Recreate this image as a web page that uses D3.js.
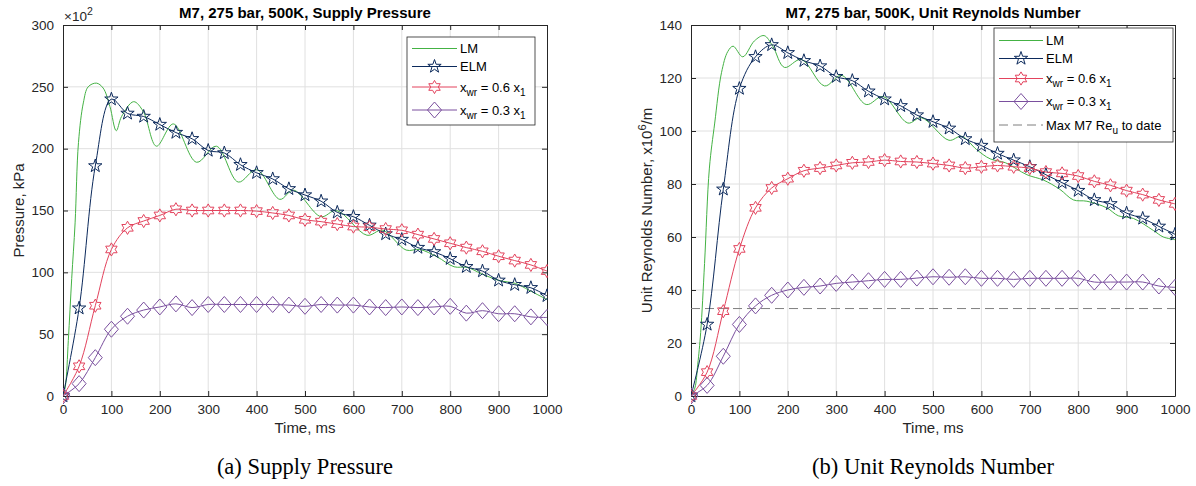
<!DOCTYPE html>
<html><head><meta charset="utf-8">
<script src="https://cdn.jsdelivr.net/npm/d3@7/dist/d3.min.js"></script>
<style>
body{margin:0;background:#fff}
text{font-family:"Liberation Sans",Arial,Helvetica,sans-serif}
</style>
</head><body>
<svg id="c" width="1196" height="486"></svg>
<script>
// ---------- DATA ----------
const timeTicks = [0,100,200,300,400,500,600,700,800,900,1000];
const markerTime = [0,33.3,66.7,100,133.3,166.7,200,233.3,266.7,300,333.3,366.7,400,433.3,466.7,500,
  533.3,566.7,600,633.3,666.7,700,733.3,766.7,800,833.3,866.7,900,933.3,966.7,1000];

// (a) Supply pressure, kPa
const pressureTicks = [0,50,100,150,200,250,300];
const pLM_t = [0,5,11,18,25,32,42,52,69,83,97,110,121,146,166,193,228,276,317,362,400,448,476,533,565,628,660,709,737,773,808,835,864,900,935,963,1000];
const pLM_v = [0,8,45,95,140,205,237,250,253,249,234,214.5,226,238,230,202,220,189,202,173,183,159,166.5,145,150,130,134,118,118.5,112.5,104.5,104,99,93.5,91,85.5,78];
const pELM = [0,71,186,240,228.5,226,219.5,213,208,198.5,196.5,187,180.5,175.5,167.5,162.5,157.5,148.5,145,138,131,126.5,120,116.5,111,104.5,101,93.5,90,87.5,81];
const pX06 = [0,24,73,118.5,136,141.5,146,151,150,150,150,150,149.5,148,146,142.5,141,139,137,136.5,135,134,130.5,127,123.5,120,117,113,109.5,106,101];
const pX03 = [0,10,31,54,64.5,69.5,72,74.5,71.5,74,74,74,74,74,73.5,72.5,74,73.5,73.5,72,71.5,72,71.5,72,72.5,67,69,66.5,66.5,64,63.5];

// (b) Unit Reynolds number, x10^6/m
const reTicks = [0,20,40,60,80,100,120,140];
const rLM_t = [0,8,14,20,28,38,49,63,76,87,107,131,151,169,193,228,276,311,362,397,448,476,533,559,590,618,650,694,728,762,790,818,859,883,914,955,976,1000];
const rLM_v = [0,3,12,24,50,86,103,122,130,132,128,134,136,132,124,127,117,121,110,113,103,105,96.5,98,93,89.5,88,83.5,81.5,78,74,73.5,71,68,67,62.5,60,59];
const rELM = [0,27,78,116,128,132.5,129.5,126.5,124.5,120.5,119,115,112,109.5,106,103.5,101,97,94.5,91.5,89,86.5,83.5,80.5,77.5,74,72.5,69,67,64,61];
const rX06 = [0,9,32,55.5,71,78.5,82,85,86,87,88,88.3,89,88.5,88.3,87.7,87,86,86.5,87,86.5,86,84.5,84,83,81,79.5,77.5,76,74,72.5];
const rX03 = [0,4,15,27,34,38,40,41,41.5,42.5,43,43.5,44,44,44.5,45,44.8,45,44.4,44.4,44,44.4,44.4,44.4,44.4,43,43,43,43,41.5,41];
const maxReToDate = 33;

const titles = ["M7, 275 bar, 500K, Supply Pressure", "M7, 275 bar, 500K, Unit Reynolds Number"];
const captions = ["(a) Supply Pressure", "(b) Unit Reynolds Number"];

// ---------- STYLE ----------
const C = {LM:"#44b244", ELM:"#0c2a5c", X06:"#e3435d", X03:"#7a4f9e", axis:"#262626", grid:"#e0e0e0", dash:"#7f7f7f"};
const svg = d3.select("#c");
const PLOT = {top:25, bottom:396, w:484};

function starPath(n, R, r){
  const p=[];
  for(let i=0;i<2*n;i++){
    const a=-Math.PI/2+i*Math.PI/n, rr=i%2?r:R;
    p.push([rr*Math.cos(a), rr*Math.sin(a)]);
  }
  return "M"+p.map(d=>d[0].toFixed(2)+","+d[1].toFixed(2)).join("L")+"Z";
}
const SYM = {
  pent: starPath(5,7,2.75),
  hex: starPath(6,6.6,3.8),
  dia: "M0,-8L7,0L0,8L-7,0Z"
};

function richLabel(sel, kind, val){
  if(kind==='x'){
    sel.append("tspan").text("x");
    sel.append("tspan").attr("font-size",10).attr("dy",4).text("wr");
    sel.append("tspan").attr("dy",-4).text(" = "+val+" x");
    sel.append("tspan").attr("font-size",10).attr("dy",4).text("1");
  } else if(kind==='max'){
    sel.append("tspan").text("Max M7 Re");
    sel.append("tspan").attr("font-size",10).attr("dy",4).text("u");
    sel.append("tspan").attr("dy",-4).text(" to date");
  } else sel.text(val);
}

function panel(cfg, idx){
  const L = cfg.left, R = L+PLOT.w;
  const x = d3.scaleLinear().domain([0,1000]).range([L,R]);
  const y = d3.scaleLinear().domain([0,cfg.yMax]).range([PLOT.bottom, PLOT.top]);
  const g = svg.append("g");
  const clipId = "clip"+idx;
  g.append("clipPath").attr("id",clipId).append("rect")
    .attr("x",L).attr("y",PLOT.top-10).attr("width",PLOT.w+1).attr("height",PLOT.bottom-PLOT.top+20);

  // grid
  g.append("g").selectAll("line").data(timeTicks.slice(1,-1)).join("line")
    .attr("x1",d=>x(d)).attr("x2",d=>x(d)).attr("y1",PLOT.top).attr("y2",PLOT.bottom)
    .attr("stroke",C.grid).attr("stroke-width",1);
  g.append("g").selectAll("line").data(cfg.yTicks.slice(1,-1)).join("line")
    .attr("y1",d=>y(d)).attr("y2",d=>y(d)).attr("x1",L).attr("x2",R)
    .attr("stroke",C.grid).attr("stroke-width",1);

  // axes
  const fmt = d=>String(d);
  const ax = [
    g.append("g").attr("transform",`translate(0,${PLOT.bottom})`).call(d3.axisBottom(x).tickValues(timeTicks).tickFormat(fmt).tickSize(-5).tickSizeOuter(0).tickPadding(8)),
    g.append("g").attr("transform",`translate(${L},0)`).call(d3.axisLeft(y).tickValues(cfg.yTicks).tickFormat(fmt).tickSize(-5).tickSizeOuter(0).tickPadding(9)),
    g.append("g").attr("transform",`translate(0,${PLOT.top})`).call(d3.axisTop(x).tickValues(timeTicks).tickSize(-5).tickSizeOuter(0).tickFormat("")),
    g.append("g").attr("transform",`translate(${R},0)`).call(d3.axisRight(y).tickValues(cfg.yTicks).tickSize(-5).tickSizeOuter(0).tickFormat(""))
  ];
  ax.forEach(a=>{
    a.select(".domain").attr("stroke",C.axis);
    a.selectAll(".tick line").attr("stroke",C.axis);
    a.selectAll(".tick text").attr("fill",C.axis).attr("font-size",13.5)
      .style("font-family",'"Liberation Sans",Arial,sans-serif');
  });

  const plot = g.append("g").attr("clip-path",`url(#${clipId})`);
  const line = d3.line().x(d=>x(d[0])).y(d=>y(d[1])).curve(d3.curveCatmullRom.alpha(0.5));

  if(cfg.maxRe!==undefined){
    plot.append("line").attr("x1",L).attr("x2",R).attr("y1",y(cfg.maxRe)).attr("y2",y(cfg.maxRe))
      .attr("stroke",C.dash).attr("stroke-width",1).attr("stroke-dasharray","9,5");
  }
  const series = [
    {t:cfg.lmT, v:cfg.lmV, color:C.LM, sym:null},
    {t:markerTime, v:cfg.elm, color:C.ELM, sym:"pent"},
    {t:markerTime, v:cfg.x06, color:C.X06, sym:"hex"},
    {t:markerTime, v:cfg.x03, color:C.X03, sym:"dia"}
  ];
  series.forEach(s=>{
    const pts = s.t.map((t,i)=>[t,s.v[i]]);
    plot.append("path").datum(pts).attr("d",line).attr("fill","none")
      .attr("stroke",s.color).attr("stroke-width",1);
    if(s.sym){
      plot.append("g").selectAll("path").data(pts).join("path")
        .attr("transform",d=>`translate(${x(d[0])},${y(d[1])})`)
        .attr("d",SYM[s.sym]).attr("fill","none").attr("stroke",s.color).attr("stroke-width",1);
    }
  });

  // title
  g.append("text").attr("x",(L+R)/2).attr("y",18).attr("text-anchor","middle")
    .attr("font-size",15).attr("font-weight","bold").attr("fill","#000").text(titles[idx]);
  // x label
  g.append("text").attr("x",(L+R)/2).attr("y",433).attr("text-anchor","middle")
    .attr("font-size",15).attr("fill",C.axis).text("Time, ms");
  // y label
  const yl = g.append("text").attr("transform",`translate(${cfg.ylabX},${(PLOT.top+PLOT.bottom)/2}) rotate(-90)`)
    .attr("text-anchor","middle").attr("font-size",15).attr("fill",C.axis);
  if(idx===0){ yl.text("Pressure, kPa"); }
  else {
    yl.append("tspan").text("Unit Reynolds Number, x10");
    yl.append("tspan").attr("font-size",11).attr("dy",-6).text("6");
    yl.append("tspan").attr("dy",6).text("/m");
  }
  if(cfg.exp){
    const e = g.append("text").attr("x",L+1).attr("y",21).attr("font-size",13.5).attr("fill",C.axis);
    e.append("tspan").text("\u00d710");
    e.append("tspan").attr("font-size",10.5).attr("dy",-6).text("2");
  }
  // caption
  g.append("text").attr("x",(L+R)/2).attr("y",474).attr("text-anchor","middle")
    .attr("font-size",22.5).attr("fill","#000")
    .style("font-family",'"Liberation Serif","Times New Roman",serif').text(captions[idx]);

  // legend
  const lg = cfg.legend;
  const leg = g.append("g");
  leg.append("rect").attr("x",lg.x).attr("y",lg.y).attr("width",lg.w).attr("height",lg.h)
    .attr("fill","#fff").attr("stroke",C.axis).attr("stroke-width",0.8);
  lg.items.forEach((it,i)=>{
    const yy = lg.rows[i];
    const l = leg.append("line").attr("x1",lg.x+5).attr("x2",lg.x+5+lg.len).attr("y1",yy).attr("y2",yy)
      .attr("stroke",it.color).attr("stroke-width",1);
    if(it.dash) l.attr("stroke-dasharray","9,5");
    if(it.sym) leg.append("path").attr("transform",`translate(${lg.x+5+lg.len/2},${yy})`)
      .attr("d",SYM[it.sym]).attr("fill","none").attr("stroke",it.color);
    const t = leg.append("text").attr("x",lg.x+8+lg.len).attr("y",yy+4.5).attr("font-size",13).attr("fill","#000");
    richLabel(t, it.kind, it.label);
  });
}

const legItems = [
  {color:C.LM, sym:null, kind:'t', label:"LM"},
  {color:C.ELM, sym:"pent", kind:'t', label:"ELM"},
  {color:C.X06, sym:"hex", kind:'x', label:"0.6"},
  {color:C.X03, sym:"dia", kind:'x', label:"0.3"}
];

panel({left:63, yMax:300, yTicks:pressureTicks, lmT:pLM_t, lmV:pLM_v, elm:pELM, x06:pX06, x03:pX03,
  ylabX:24, exp:true,
  legend:{x:407, y:37, w:128, h:88, len:45, rows:[48.5,66.5,87,110], items:legItems}}, 0);

panel({left:691, yMax:140, yTicks:reTicks, lmT:rLM_t, lmV:rLM_v, elm:rELM, x06:rX06, x03:rX03,
  ylabX:652, maxRe:maxReToDate,
  legend:{x:994, y:28, w:179, h:114, len:44, rows:[40.5,58.5,78.5,101.5,125],
    items:legItems.concat([{color:C.dash, sym:null, dash:true, kind:'max', label:""}])}}, 1);
</script>
</body></html>
